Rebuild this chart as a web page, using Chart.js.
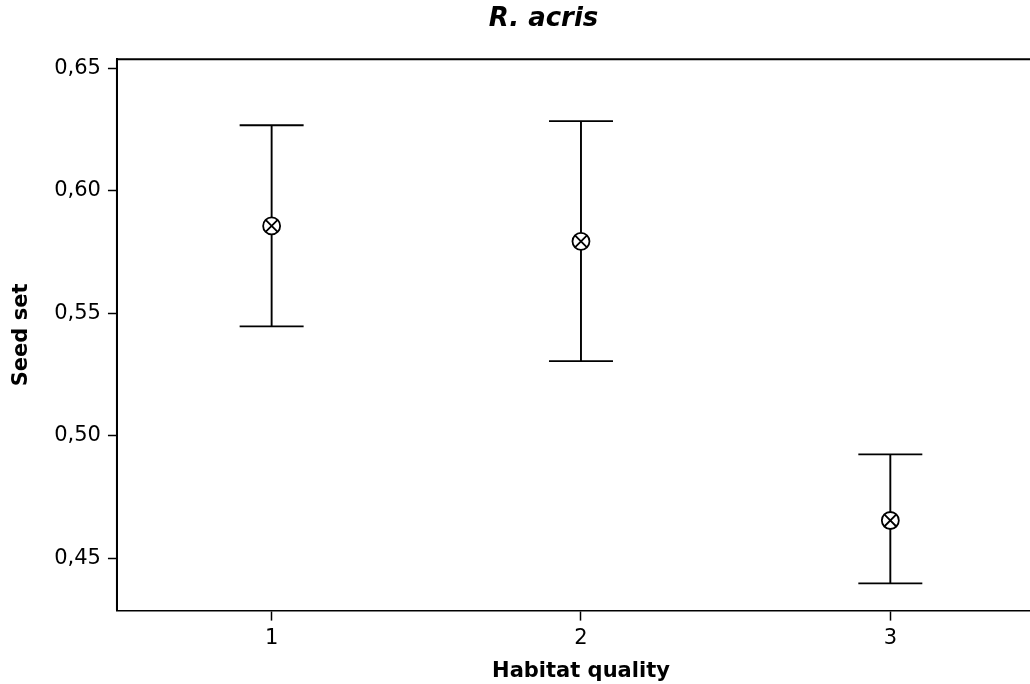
<!DOCTYPE html>
<html>
<head>
<meta charset="utf-8">
<script src="https://cdn.jsdelivr.net/npm/chart.js@4"></script>
<style>
  body { margin: 0; background: #fff; overflow: hidden; }
  #wrap { width: 1086px; height: 684px; }
</style>
</head>
<body>
<div id="wrap"><canvas id="chart" width="1086" height="684"></canvas></div>
<script>
const habitat = [1, 2, 3];
const means = [0.5857, 0.5794, 0.4654];
const upper = [0.6268, 0.6285, 0.4924];
const lower = [0.5447, 0.5305, 0.4397];
const yTicks = [0.45, 0.50, 0.55, 0.60, 0.65];

const points = habitat.map((h, i) => ({ x: h, y: means[i] }));

// error bars, drawn under the markers
const errorBars = {
    id: "errorBars",
    beforeDatasetsDraw(chart) {
        const ctx = chart.ctx;
        const xs = chart.scales.x;
        const ys = chart.scales.y;
        ctx.save();
        ctx.strokeStyle = "#000";
        ctx.lineWidth = 1.9;
        habitat.forEach((h, i) => {
            const px = xs.getPixelForValue(h);
            const top = ys.getPixelForValue(upper[i]);
            const bot = ys.getPixelForValue(lower[i]);
            ctx.beginPath();
            ctx.moveTo(px, top);
            ctx.lineTo(px, bot);
            ctx.moveTo(px - 32, top);
            ctx.lineTo(px + 32, top);
            ctx.moveTo(px - 32, bot);
            ctx.lineTo(px + 32, bot);
            ctx.stroke();
        });
        ctx.restore();
    },
    afterDraw(chart) {
        // top and left frame lines
        const a = chart.chartArea;
        const ctx = chart.ctx;
        ctx.save();
        ctx.strokeStyle = "#000";
        ctx.lineWidth = 2;
        ctx.beginPath();
        ctx.moveTo(a.left, a.bottom);
        ctx.lineTo(a.left, a.top);
        ctx.lineTo(a.right, a.top);
        ctx.stroke();
        ctx.restore();
    }
};

const ctx = document.getElementById("chart").getContext("2d");
new Chart(ctx, {
    type: "scatter",
    data: {
        datasets: [
            {
                // first dataset is drawn on top
                data: points,
                pointStyle: "crossRot",
                pointRadius: 8.5,
                pointBorderWidth: 1.8,
                pointBorderColor: "#000"
            },
            {
                data: points,
                pointStyle: "circle",
                pointRadius: 8.5,
                pointBorderWidth: 1.8,
                pointBorderColor: "#000",
                pointBackgroundColor: "#fff"
            }
        ]
    },
    options: {
        responsive: false,
        animation: false,
        layout: { padding: { left: 42, right: 41, top: 0, bottom: 0 } },
        plugins: {
            legend: { display: false },
            tooltip: { enabled: false },
            title: {
                display: true,
                text: "R. acris",
                color: "#000",
                font: { family: "DejaVu Sans", size: 26, weight: "bold", style: "italic" },
                padding: { top: 4, bottom: 24 }
            }
        },
        scales: {
            x: {
                type: "linear",
                min: 0.5,
                max: 3.5,
                afterBuildTicks: (s) => { s.ticks = habitat.map(v => ({ value: v })); },
                grid: { drawOnChartArea: false, tickLength: 10, tickColor: "#000", tickWidth: 1.5 },
                border: { color: "#000", width: 1.5 },
                ticks: {
                    color: "#000",
                    padding: 5,
                    font: { family: "DejaVu Sans", size: 21 },
                    callback: (v) => String(v)
                },
                title: {
                    display: true,
                    text: "Habitat quality",
                    color: "#000",
                    font: { family: "DejaVu Sans", size: 21, weight: "bold" },
                    padding: { top: 3, bottom: 0 }
                }
            },
            y: {
                min: 0.4286,
                max: 0.6538,
                afterBuildTicks: (s) => { s.ticks = yTicks.map(v => ({ value: v })); },
                grid: { drawOnChartArea: false, tickLength: 9, tickColor: "#000", tickWidth: 1.5 },
                border: { color: "#000", width: 2 },
                ticks: {
                    color: "#000",
                    padding: 7,
                    font: { family: "DejaVu Sans", size: 21 },
                    callback: (v) => v.toFixed(2).replace(".", ",")
                },
                title: {
                    display: true,
                    text: "Seed set",
                    color: "#000",
                    font: { family: "DejaVu Sans", size: 21, weight: "bold" },
                    padding: { top: -33, bottom: 13 }
                }
            }
        }
    },
    plugins: [errorBars]
});
</script>
</body>
</html>
